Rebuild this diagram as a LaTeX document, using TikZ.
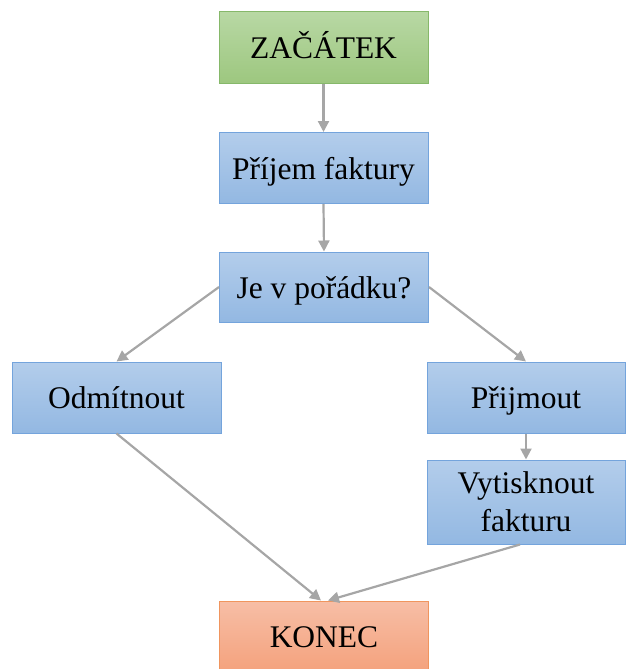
\documentclass[tikz,border=0pt]{standalone}
\usepackage{fontspec}
\setmainfont{Liberation Serif}
\usetikzlibrary{arrows.meta}
\definecolor{gbord}{HTML}{86B86A}
\definecolor{gtop}{HTML}{B8D8A4}
\definecolor{gbot}{HTML}{9DC77F}
\definecolor{bbord}{HTML}{74A4DC}
\definecolor{btop}{HTML}{B3CDEB}
\definecolor{bbot}{HTML}{93B8E2}
\definecolor{obord}{HTML}{F0955E}
\definecolor{otop}{HTML}{F7BEA6}
\definecolor{obot}{HTML}{F4A27D}
\definecolor{arr}{HTML}{A6A6A6}
\tikzset{
  box/.style={draw, line width=1pt, inner sep=0pt, align=center,
    font=\fontsize{31.5}{38}\selectfont, text=black},
  one/.style={text height=22pt, text depth=0pt},
  greenbox/.style={box, draw=gbord, top color=gtop, bottom color=gbot},
  bluebox/.style={box, draw=bbord, top color=btop, bottom color=bbot},
  orangebox/.style={box, draw=obord, top color=otop, bottom color=obot},
  conn/.style={draw=arr, line width=2.2pt, -{Triangle[width=11pt,length=11pt]}}
}
\begin{document}
\begin{tikzpicture}[x=1pt,y=-1pt]
\useasboundingbox (0,0) rectangle (626,669);
\begin{scope}
\clip (0,0) rectangle (626,669);
\node[greenbox, one, minimum width=209pt, minimum height=71pt] (start) at (323.5,47.5) {ZAČÁTEK};
\node[bluebox, one, minimum width=209pt, minimum height=71pt] (recv) at (323.5,168) {Příjem faktury};
\node[bluebox, one, minimum width=209pt, minimum height=70pt] (check) at (324,287) {Je v pořádku?};
\node[bluebox, one, minimum width=209pt, minimum height=71pt] (rej) at (116.5,397.5) {Odmítnout};
\node[bluebox, one, minimum width=198pt, minimum height=71pt] (acc) at (526,397.5) {Přijmout};
\node[bluebox, minimum width=198pt, minimum height=84pt] (print) at (526,502) {Vytisknout\\fakturu};
\node[orangebox, one, minimum width=209pt, minimum height=70pt] (end) at (324,636) {KONEC};
\end{scope}
\draw[conn] (start.south) -- (recv.north);
\draw[conn] (recv.south) -- (check.north);
\draw[conn] (check.west) -- (rej.north);
\draw[conn] (check.east) -- (acc.north);
\draw[conn] (acc.south) -- (print.north);
\draw[conn] (rej.south) -- ([xshift=-3pt]end.north);
\draw[conn] ([xshift=-6pt]print.south) -- ([xshift=4pt]end.north);
\end{tikzpicture}
\end{document}
